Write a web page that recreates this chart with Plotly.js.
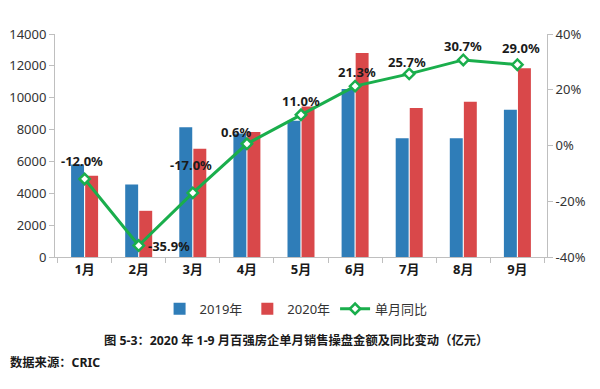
<!DOCTYPE html>
<html><head><meta charset="utf-8">
<script src="https://cdn.plot.ly/plotly-3.0.1.min.js"></script>
<style>body{margin:0;background:#fff}#c{width:600px;height:389px}</style>
</head><body><div id="c"></div>
<script>
const months = ['1月','2月','3月','4月','5月','6月','7月','8月','9月'];
const sales2019 = [5800, 4550, 8150, 7750, 8550, 10550, 7450, 7450, 9250];
const sales2020 = [5100, 2900, 6800, 7850, 9450, 12800, 9350, 9750, 11850];
const yoy = [-12.0, -35.9, -17.0, 0.6, 11.0, 21.3, 25.7, 30.7, 29.0];
const pctTickVals = [-40, -20, 0, 20, 40];
const pctTickText = ['-40%', '-20%', '0%', '20%', '40%'];
const labelShiftX = [-3, 30, -2, -10, 0, 2, -2, 0, 4];
const labelShiftY = [18, 0, 28, 12, 14, 14, 12, 14, 17];

const F = 'Noto Sans, Noto Sans CJK SC, sans-serif';
const data = [
  {type:'bar', name:'2019年', x:months, y:sales2019, marker:{color:'#2F7DB8'}},
  {type:'bar', name:'2020年', x:months, y:sales2020, marker:{color:'#D9484A'}},
  {type:'scatter', mode:'lines+markers', name:'单月同比', x:months, y:yoy, yaxis:'y2',
   line:{color:'#1AAE4C', width:3},
   marker:{symbol:'diamond', size:8, color:'#fff', line:{color:'#1AAE4C', width:2.5}}}
];
const annotations = yoy.map((v,i)=>({
  x:months[i], y:v, yref:'y2', xref:'x', text:v.toFixed(1)+'%', showarrow:false,
  xshift:labelShiftX[i], yshift:labelShiftY[i],
  font:{family:F, size:13, color:'#1a1a1a', weight:'bold'}
}));
annotations.push({xref:'paper', yref:'paper', x:0.49, y:-0.42, text:'<b>图 5-3：2020 年 1-9 月百强房企单月销售操盘金额及同比变动（亿元）</b>',
  showarrow:false, font:{family:F, size:12.3, color:'#1a1a1a'}, xanchor:'center'});
annotations.push({xref:'paper', yref:'paper', x:-0.095, y:-0.52, text:'<b>数据来源：CRIC</b>',
  showarrow:false, font:{family:F, size:12.3, color:'#1a1a1a'}, xanchor:'left'});

const layout = {
  width:600, height:389,
  margin:{l:55, r:53, t:34, b:132},
  paper_bgcolor:'#fff', plot_bgcolor:'#fff',
  barmode:'group', bargap:0.48, bargroupgap:0.08,
  font:{family:F, size:13, color:'#333'},
  showlegend:true,
  legend:{orientation:'h', x:0.49, xanchor:'center', y:-0.165, yanchor:'top',
    font:{family:F, size:13, color:'#333'}, itemwidth:30, tracegroupgap:0},
  xaxis:{showline:true, linecolor:'#bfbfbf', linewidth:1, ticks:'outside', tickson:'boundaries',
    ticklen:5, tickcolor:'#bfbfbf', showgrid:false,
    tickfont:{family:F, size:13, color:'#1a1a1a', weight:'bold'}},
  yaxis:{range:[0,14000], dtick:2000, tickformat:'d', showline:true, linecolor:'#bfbfbf', ticks:'outside',
    ticklen:5, tickcolor:'#bfbfbf', showgrid:false, zeroline:false,
    tickfont:{family:F, size:13, color:'#333'}},
  yaxis2:{range:[-40,40], tickmode:'array', tickvals:pctTickVals, ticktext:pctTickText,
    overlaying:'y', side:'right',
    showline:true, linecolor:'#bfbfbf', ticks:'outside', ticklen:5, tickcolor:'#bfbfbf',
    showgrid:false, zeroline:false, tickfont:{family:F, size:13, color:'#333'}},
  annotations:annotations
};
Plotly.newPlot('c', data, layout, {displayModeBar:false});
</script></body></html>
